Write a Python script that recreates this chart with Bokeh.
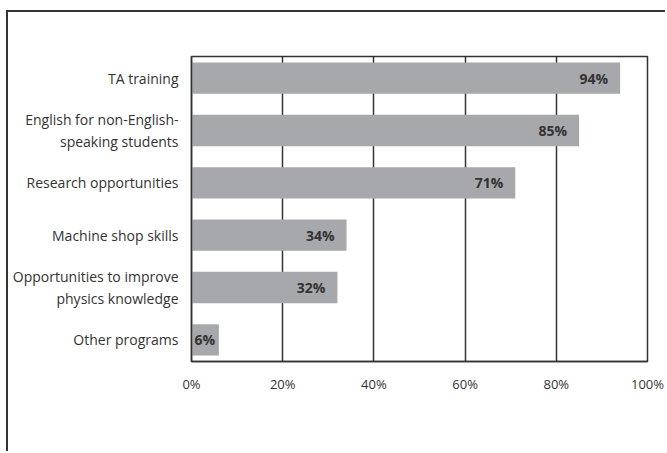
from bokeh.plotting import figure
from bokeh.models import FactorRange, Range1d, FixedTicker, ColumnDataSource
from bokeh.core.properties import value
from bokeh.embed import file_html
from bokeh.resources import INLINE

categories = [
    "TA training",
    "English for non-English-\nspeaking students",
    "Research opportunities",
    "Machine shop skills",
    "Opportunities to improve\nphysics knowledge",
    "Other programs",
]
values = [94, 85, 71, 34, 32, 6]
value_labels = ["94%", "85%", "71%", "34%", "32%", "6%"]
x_ticks = [0, 20, 40, 60, 80, 100]
x_tick_labels = ["0%", "20%", "40%", "60%", "80%", "100%"]

FONT = "Open Sans"
DARK = "#333333"
BAR = "#a7a8ab"

W, H = 659, 441
p = figure(
    width=W, height=H,
    y_range=FactorRange(factors=categories[::-1], range_padding=-0.086,
                        range_padding_units="absolute"),
    x_range=Range1d(0, 100),
    output_backend="svg", toolbar_location=None,
    min_border_left=183, min_border_right=20,
    min_border_top=44, min_border_bottom=92,
)
p.styles = {"border-left": "2px solid #333333", "border-top": "2px solid #333333",
            "margin-left": "6px", "margin-top": "10px"}

p.hbar(y=categories, right=values, left=0, height=0.6, fill_color=BAR, line_color=None)

lab_x = [v if v >= 10 else 0 for v in values]
lab_align = ["right" if v >= 10 else "left" for v in values]
lab_off = [-12 if v >= 10 else 3 for v in values]
src = ColumnDataSource(dict(x=lab_x, y=categories, t=value_labels, a=lab_align, o=lab_off))
p.text(x="x", y="y", text="t", text_align="a", x_offset="o", text_baseline="middle",
       text_font=value(FONT), text_font_style="bold", text_font_size="14px",
       text_color=DARK, source=src)

p.outline_line_color = DARK
p.outline_line_width = 1.5

p.xgrid.ticker = FixedTicker(ticks=x_ticks)
p.xgrid.grid_line_color = DARK
p.xgrid.grid_line_width = 1.5
p.ygrid.grid_line_color = None

xa = p.xaxis[0]
xa.ticker = FixedTicker(ticks=x_ticks)
xa.major_label_overrides = {t: l for t, l in zip(x_ticks, x_tick_labels)}
xa.major_tick_line_color = None
xa.minor_tick_line_color = None
xa.axis_line_color = DARK
xa.axis_line_width = 1.5
xa.major_label_text_font = FONT
xa.major_label_text_font_size = "13px"
xa.major_label_text_color = DARK
xa.major_label_standoff = 7

ya = p.yaxis[0]
ya.major_tick_line_color = None
ya.minor_tick_line_color = None
ya.axis_line_color = DARK
ya.axis_line_width = 1.5
ya.major_label_text_font = FONT
ya.major_label_text_font_size = "14px"
ya.major_label_text_color = DARK
ya.major_label_standoff = 7

open("out.html", "w").write(file_html(p, INLINE))
